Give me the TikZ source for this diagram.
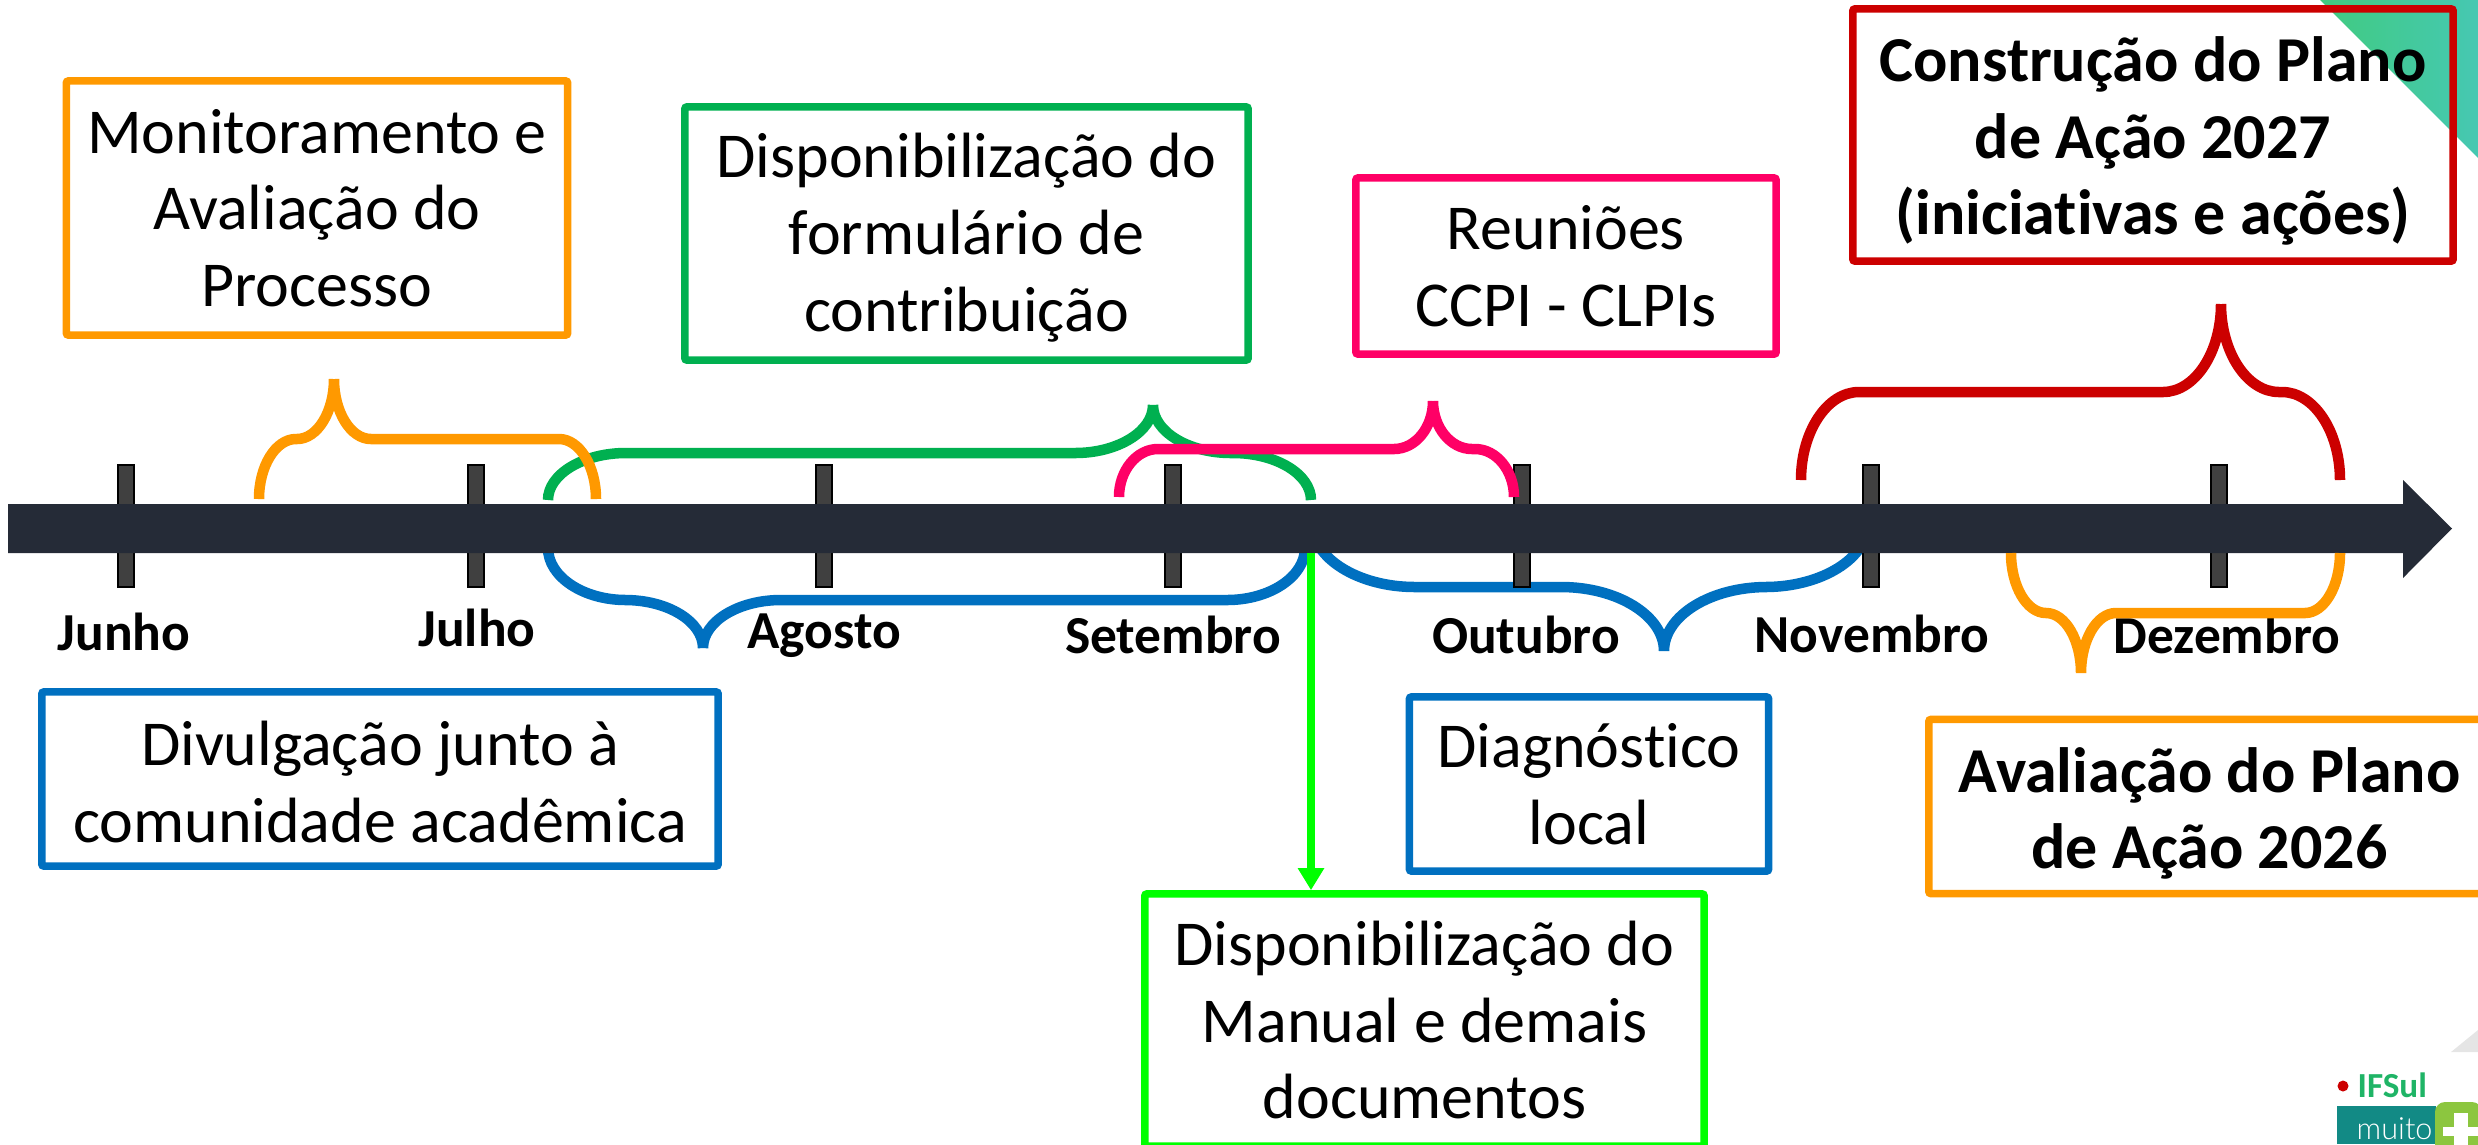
\documentclass[tikz,border=0pt]{standalone}
\usepackage{fontspec}
\setmainfont[Ligatures=NoCommon]{Carlito}
\newfontfamily\logofont{Lato Light}
\usetikzlibrary{arrows.meta}
\definecolor{laranja}{HTML}{FF9900}
\definecolor{verde}{HTML}{00B050}
\definecolor{rosa}{HTML}{FF0066}
\definecolor{vermelho}{HTML}{CC0000}
\definecolor{azul}{HTML}{0070C0}
\definecolor{limao}{HTML}{00FF00}
\definecolor{eixo}{HTML}{252B37}
\definecolor{marca}{HTML}{404040}
\definecolor{cantoa}{HTML}{40CB80}
\definecolor{cantob}{HTML}{46C8B2}
\definecolor{tealsul}{HTML}{128A85}
\definecolor{verdesul}{HTML}{1FB466}
\definecolor{maissul}{HTML}{8CC63F}
\tikzset{box/.style={draw, line width=0.075cm, rounded corners=0.02cm, align=center, inner sep=0pt, font=\fontsize{18.2}{21.8}\selectfont}}
\tikzset{boldbox/.style={box, font=\fontsize{18.2}{21.8}\selectfont\bfseries}}
\tikzset{chaveline/.style={line width=0.105cm}}
\tikzset{mes/.style={anchor=base, inner sep=0pt, font=\fontsize{15.2}{18}\selectfont\bfseries}}
\tikzstyle{arrow} = [line width=0.075cm,-{Triangle[length=0.22cm,width=0.25cm]}]
\newcommand{\folga}[1]{\rule{0pt}{#1}}
% x1, tip, x2, end, flat, tip height, radius
\newcommand{\chave}[8]{%
  \pgfmathsetmacro{\ye}{#5+0.55*(#6-#5)}%
  \pgfmathsetmacro{\yt}{#7+0.55*(#6-#7)}%
  \draw[chaveline,#1] (#2,#5) .. controls (#2,\ye) and ({#2+0.45*#8},#6) .. ({#2+#8},#6)
    -- ({#3-#8},#6) .. controls ({#3-0.45*#8},#6) and (#3,\yt) .. (#3,#7)
    (#3,#7) .. controls (#3,\yt) and ({#3+0.45*#8},#6) .. ({#3+#8},#6)
    -- ({#4-#8},#6) .. controls ({#4-0.45*#8},#6) and (#4,\ye) .. (#4,#5);
}

\begin{document}
\begin{tikzpicture}[x=0.01cm,y=-0.01cm]
\useasboundingbox (0,0) rectangle (2478,1144);

% fundo
\shade[left color=cantoa, right color=cantob, draw=none]
  (2320,0) -- (2478,0) -- (2478,158) -- cycle;
\fill[black!10] (2451,1052) -- (2478,1052) -- (2478,1030) -- cycle;

% chaves de baixo
\chave{azul}{548}{703}{1305}{548}{600}{648}{78}
\chave{azul}{1312}{1664}{1868}{523}{587}{651}{103}

% meses
\foreach \x in {126,476,824,1173,1522,1871,2219}
  \draw[fill=marca, line width=0.02cm] ({\x-8},465) rectangle ({\x+8},587);
\fill[eixo] (8,504) -- (2403,504) -- (2403,480) -- (2452,528.5) -- (2403,578) -- (2403,553) -- (8,553) -- cycle;
\foreach \x/\base/\nome in {124/650/Junho,477/646/Julho,824/648/Agosto,1173/653/Setembro,1526/653/Outubro,1872/652/Novembro,2227/653/Dezembro}
  \node[mes] (\nome) at (\x,\base) {\nome};

% chaves de cima
\chave{verde}{548}{1153}{1311}{500}{453}{405}{78}
\chave{laranja}{259}{334}{596}{499}{439}{379}{37}
\chave{rosa}{1119}{1433}{1514}{497}{449}{401}{39}
\chave{vermelho}{1801}{2221}{2340}{480}{392}{304}{58}
\chave{laranja}{2011}{2081}{2340}{553}{613}{673}{35}

% caixas
\node[box, draw=laranja, minimum width=5.01cm, minimum height=2.54cm] (monitoramento) at (317,208) {Monitoramento e\\Avaliação do\\Processo};
\node[box, draw=verde, minimum width=5.63cm, minimum height=2.53cm] (formulario) at (966.5,233.5) {\folga{0.53cm}Disponibilização do\\formulário de\\contribuição};
\node[box, draw=rosa, minimum width=4.2cm, minimum height=1.76cm] (reunioes) at (1566,266) {Reuniões\\CCPI - CLPIs};
\node[boldbox, draw=vermelho, minimum width=6cm, minimum height=2.52cm] (construcao) at (2153,135) {\folga{0.57cm}Construção do Plano\\de Ação 2027\\(iniciativas e ações)};
\node[box, draw=azul, minimum width=6.76cm, minimum height=1.74cm] (divulgacao) at (380,779) {\folga{0.5cm}Divulgação junto à\\comunidade acadêmica};
\node[box, draw=azul, minimum width=3.59cm, minimum height=1.74cm] (diagnostico) at (1589,784) {Diagnóstico\\local};
\node[boldbox, draw=laranja, minimum width=5.61cm, minimum height=1.74cm] (avaliacao) at (2209.5,806.5) {\folga{0.59cm}Avaliação do Plano\\de Ação 2026};
\node[box, draw=limao, minimum width=5.59cm, minimum height=2.52cm] (manual) at (1424.5,1020) {Disponibilização do\\Manual e demais\\documentos};

\coordinate (saida) at (1311,553);
\draw[arrow, limao] (saida) -- (saida |- manual.north);

% logo
\fill[tealsul] (2337,1106) rectangle (2436,1144);
\fill[maissul, rounded corners=0.1cm] (2435,1102) rectangle (2482,1170);
\fill[white] (2454,1113) rectangle (2468,1150);
\fill[white] (2443,1127) rectangle (2478,1136);
\fill[red!80!black] (2343,1086) circle (5.5);
\node[anchor=base west, inner sep=0pt, text=verdesul, font=\fontsize{10}{12}\selectfont\bfseries] (ifsul) at (2357,1097) {IFSul};
\node[anchor=base west, inner sep=0pt, text=white, font=\logofont\fontsize{8.7}{11}\selectfont] (muito) at (2356,1139) {muito};
\end{tikzpicture}
\end{document}
